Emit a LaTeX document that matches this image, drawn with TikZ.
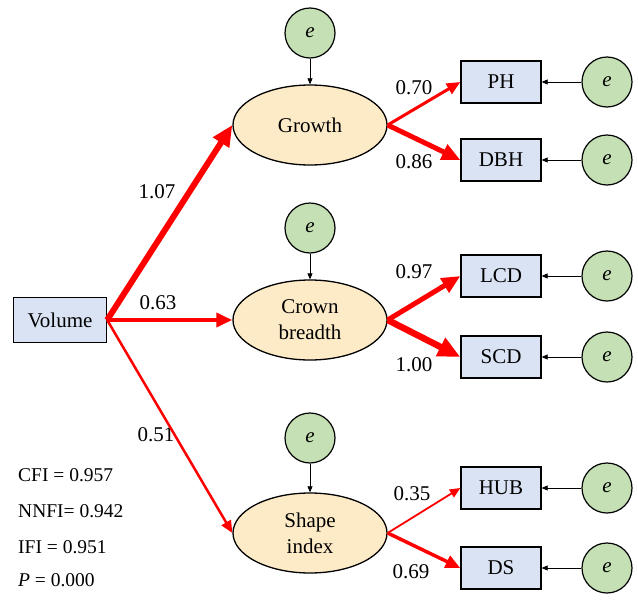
\documentclass[tikz,border=0pt]{standalone}
\usepackage{fontspec}
\setmainfont{Liberation Serif}
\usetikzlibrary{shapes.geometric, arrows.meta, positioning}
\definecolor{boxblue}{RGB}{218,227,243}
\definecolor{latentfill}{RGB}{253,235,200}
\definecolor{errgreen}{RGB}{197,224,180}
\tikzstyle{observed}=
[
	rectangle
	, minimum width=80pt
	, minimum height=42pt
	, draw=black
	, line width=1.3pt
	, fill=boxblue
]
\tikzstyle{latent}=
[
	draw
	,ellipse
	,line width=1.3pt
	,fill=latentfill
	,minimum width=154pt
	,minimum height=80pt
	,align=center
]
\tikzstyle{err}=
[
	draw
	,circle
	,line width=1.2pt
	,fill=errgreen
	,minimum size=50pt
	,inner sep=0pt
]
\tikzstyle{coef}=
[
	inner sep=1pt
]
\tikzstyle{stat}=
[
	anchor=west
	,inner sep=0pt
	,font=\fontsize{19.5}{24}\selectfont
]
\tikzstyle{load} = [draw=red,-{Triangle[length=6pt 2.5,width=5pt 2.2]}]
\tikzstyle{errarrow} = [line width=0.7pt,-{Triangle[length=6pt,width=5pt]}]

\begin{document}
\begin{tikzpicture}[x=1pt,y=-1pt,font=\fontsize{21}{26}\selectfont]
\useasboundingbox (0,0) rectangle (638,600);
\node(volume)[observed,minimum width=93pt,minimum height=45pt] at (60,320){Volume};
\node(crown)[latent,right of=volume,node distance=250pt]{Crown\\breadth};
\node(growth)[latent,above of=crown,node distance=195pt]{Growth};
\node(shape)[latent,below of=crown,node distance=213pt]{Shape\\index};

\node(eg)[err,above of=growth,node distance=92pt]{\textit{e}};
\node(ec)[err,above of=crown,node distance=92pt]{\textit{e}};
\node(es)[err,above of=shape,node distance=95pt]{\textit{e}};

\node(ph)[observed,right of=growth,node distance=191pt,yshift=43pt]{PH};
\node(dbh)[observed,right of=growth,node distance=191pt,yshift=-35pt]{DBH};
\node(lcd)[observed,right of=crown,node distance=191pt,yshift=44pt]{LCD};
\node(scd)[observed,right of=crown,node distance=191pt,yshift=-37pt]{SCD};
\node(hub)[observed,right of=shape,node distance=191pt,yshift=45pt]{HUB};
\node(ds)[observed,right of=shape,node distance=191pt,yshift=-35pt]{DS};

\node(eph)[err,right of=ph,node distance=106pt]{\textit{e}};
\node(edbh)[err,right of=dbh,node distance=106pt]{\textit{e}};
\node(elcd)[err,right of=lcd,node distance=106pt]{\textit{e}};
\node(escd)[err,right of=scd,node distance=106pt]{\textit{e}};
\node(ehub)[err,right of=hub,node distance=106pt]{\textit{e}};
\node(eds)[err,right of=ds,node distance=106pt]{\textit{e}};

% path coefficients
\node(c107)[coef] at (157,192){1.07};
\node(c063)[coef] at (158,303){0.63};
\node(c051)[coef] at (156,435){0.51};
\node(c070)[coef] at (414,88){0.70};
\node(c086)[coef] at (414,162){0.86};
\node(c097)[coef] at (414,272){0.97};
\node(c100)[coef] at (414,365){1.00};
\node(c035)[coef] at (412,494){0.35};
\node(c069)[coef] at (411,572){0.69};

% fit indices
\node(cfi)[stat] at (18,475){CFI = 0.957};
\node(nnfi)[stat] at (18,511){NNFI= 0.942};
\node(ifi)[stat] at (18,547){IFI = 0.951};
\node(pval)[stat] at (18,580){\textit{P} = 0.000};

\draw[load,line width=6pt](volume.east)--(growth.west);
\draw[load,line width=4pt](volume.east)--(crown.west);
\draw[load,line width=2.5pt](volume.east)--(shape.west);

\draw[load,line width=3pt](growth.east)--(ph.west);
\draw[load,line width=5pt](growth.east)--(dbh.west);
\draw[load,line width=5pt](crown.east)--(lcd.west);
\draw[load,line width=6.5pt](crown.east)--(scd.west);
\draw[load,line width=1.8pt](shape.east)--(hub.west);
\draw[load,line width=3.5pt](shape.east)--(ds.west);

\draw[errarrow](eg)--(growth);
\draw[errarrow](ec)--(crown);
\draw[errarrow](es)--(shape);

\draw[errarrow](eph)--(ph);
\draw[errarrow](edbh)--(dbh);
\draw[errarrow](elcd)--(lcd);
\draw[errarrow](escd)--(scd);
\draw[errarrow](ehub)--(hub);
\draw[errarrow](eds)--(ds);
\end{tikzpicture}
\end{document}
